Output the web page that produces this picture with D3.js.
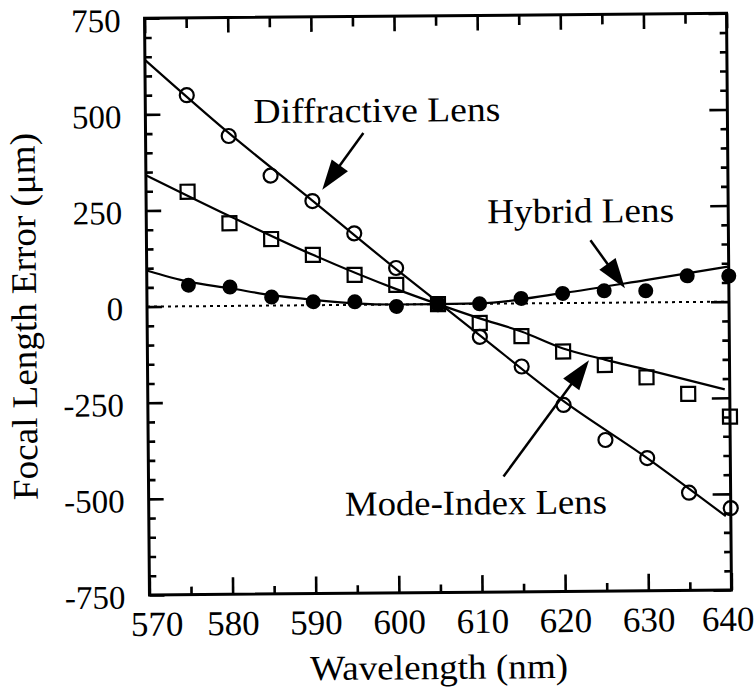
<!DOCTYPE html>
<html>
<head>
<meta charset="utf-8">
<script src="https://cdn.jsdelivr.net/npm/d3@7/dist/d3.min.js"></script>
<style>
body { margin: 0; background: #fff; }
svg text { font-family: "Liberation Serif", "Times New Roman", serif; fill: #000; }
</style>
</head>
<body>
<svg id="chart"></svg>
<script>
var width = 755;
var height = 690;

// measured points (nm, um)
var wavelengths = [575, 580, 585, 590, 595, 600, 605, 610, 615, 620, 625, 630, 635, 640];
var diffractive = [549, 442, 338, 271, 186, 95, 0, -86, -164, -265, -357, -405, -496, -537];
var modeIndex = [298, 215, 173, 131, 78, 51, 0, -50, -85, -126, -162, -195, -239, -299];
var hybrid = [55, 49, 22, 9, 8, -5, 0, 0, 13, 25, 31, 30, 68, 67];

// fitted curves
var diffFitX = [570, 580, 590, 600, 605, 610, 620, 630, 639.4];
var diffFitY = [642, 450, 272, 92, 5, -82, -255, -405, -558];
var modeFitX = [570, 580, 590, 600, 605, 610, 615, 620, 625, 630, 639.4];
var modeFitY = [342, 234, 131, 40, 0, -38, -73, -118, -148, -175, -228];
var hybFitX = [570, 575, 580, 585, 590, 595, 600, 605, 610, 620, 630, 639.9];
var hybFitY = [94, 64, 46, 27, 14, 4, 0, 0, 1, 26, 58, 91];

var xTicks = [570, 580, 590, 600, 610, 620, 630, 640];
var xMinor = [575, 585, 595, 605, 615, 625, 635];
var yTicks = [-750, -500, -250, 0, 250, 500, 750];
var yMinor = [-700, -650, -600, -550, -450, -400, -350, -300, -200, -150, -100, -50,
    50, 100, 150, 200, 300, 350, 400, 450, 550, 600, 650, 700];

// annotations: label, text start [nm, um], arrow from, arrow to
var labels = [
    { text: "Diffractive Lens", at: [583, 475], len: 247, from: [596.2, 447], to: [591.2, 300] },
    { text: "Hybrid Lens", at: [611, 209], len: 187, from: [623.4, 163], to: [627.5, 37] },
    { text: "Mode-Index Lens", at: [593.6, -548], len: 262, from: [612.7, -450], to: [623.1, -149] }
];

var svg = d3.select("#chart")
    .attr("width", width)
    .attr("height", height);

svg.append("rect")
    .attr("width", width)
    .attr("height", height)
    .attr("fill", "#fff");

var x = d3.scaleLinear().domain([570, 640]).range([147, 729]);
var y = d3.scaleLinear().domain([-750, 750]).range([592.5, 15.8]);

// the scanned figure is tilted a little
var g = svg.append("g")
    .attr("transform", "rotate(-0.49, 438, 304)");

function styleAxis(sel) {
    sel.select(".domain").remove();
    sel.selectAll("line").attr("stroke", "#000").attr("stroke-width", 2.6);
}

// left
g.append("g")
    .attr("transform", "translate(" + x(570) + ",0)")
    .call(d3.axisLeft(y).tickValues(yMinor).tickSize(-7).tickSizeOuter(0).tickFormat(""))
    .call(styleAxis);
var leftAxis = g.append("g")
    .attr("transform", "translate(" + x(570) + ",0)")
    .call(d3.axisLeft(y).tickValues(yTicks).tickSize(-15).tickSizeOuter(0).tickPadding(24)
        .tickFormat(function (d) { return String(d); }))
    .call(styleAxis)
    .attr("font-size", 33)
    .attr("font-family", null);
leftAxis.selectAll("text").attr("dy", "0.39em");

// right
g.append("g")
    .attr("transform", "translate(" + x(640) + ",0)")
    .call(d3.axisRight(y).tickValues(yMinor).tickSize(-7).tickSizeOuter(0).tickFormat(""))
    .call(styleAxis);
g.append("g")
    .attr("transform", "translate(" + x(640) + ",0)")
    .call(d3.axisRight(y).tickValues(yTicks).tickSize(-18).tickSizeOuter(0).tickFormat(""))
    .call(styleAxis);

// bottom
g.append("g")
    .attr("transform", "translate(0," + y(-750) + ")")
    .call(d3.axisBottom(x).tickValues(xMinor).tickSize(-8).tickSizeOuter(0).tickFormat(""))
    .call(styleAxis);
var bottomAxis = g.append("g")
    .attr("transform", "translate(0," + y(-750) + ")")
    .call(d3.axisBottom(x).tickValues(xTicks).tickSize(-17).tickSizeOuter(0).tickPadding(16)
        .tickFormat(function (d) { return String(d); }))
    .call(styleAxis)
    .attr("font-size", 35)
    .attr("font-family", null);
bottomAxis.selectAll("text")
    .attr("dx", function (d) {
        if (d === 570) return 7;
        if (d === 640) return -4;
        return 0;
    });

// top
g.append("g")
    .attr("transform", "translate(0," + y(750) + ")")
    .call(d3.axisTop(x).tickValues(xMinor).tickSize(-10).tickSizeOuter(0).tickFormat(""))
    .call(styleAxis);
g.append("g")
    .attr("transform", "translate(0," + y(750) + ")")
    .call(d3.axisTop(x).tickValues(xTicks).tickSize(-15).tickSizeOuter(0).tickFormat(""))
    .call(styleAxis);

// frame
g.append("rect")
    .attr("x", x(570))
    .attr("y", y(750))
    .attr("width", x(640) - x(570))
    .attr("height", y(-750) - y(750))
    .attr("fill", "none")
    .attr("stroke", "#000")
    .attr("stroke-width", 3);

// zero reference
g.append("line")
    .attr("x1", x(570))
    .attr("x2", x(640))
    .attr("y1", y(0))
    .attr("y2", y(0))
    .attr("stroke", "#000")
    .attr("stroke-width", 2)
    .attr("stroke-dasharray", "3,4");

var line = d3.line()
    .x(function (d) { return x(d[0]); })
    .y(function (d) { return y(d[1]); })
    .curve(d3.curveMonotoneX);

function drawFit(xs, ys) {
    g.append("path")
        .datum(d3.zip(xs, ys))
        .attr("d", line)
        .attr("fill", "none")
        .attr("stroke", "#000")
        .attr("stroke-width", 2.2);
}
drawFit(diffFitX, diffFitY);
drawFit(modeFitX, modeFitY);
drawFit(hybFitX, hybFitY);

// markers
g.selectAll(".sq")
    .data(d3.zip(wavelengths, modeIndex))
    .enter()
    .append("rect")
    .attr("x", function (d) { return x(d[0]) - 7; })
    .attr("y", function (d) { return y(d[1]) - 7; })
    .attr("width", 14)
    .attr("height", 14)
    .attr("fill", "none")
    .attr("stroke", "#000")
    .attr("stroke-width", 2.2);

g.selectAll(".oc")
    .data(d3.zip(wavelengths, diffractive))
    .enter()
    .append("circle")
    .attr("cx", function (d) { return x(d[0]); })
    .attr("cy", function (d) { return y(d[1]); })
    .attr("r", 7)
    .attr("fill", "none")
    .attr("stroke", "#000")
    .attr("stroke-width", 2.2);

g.selectAll(".fc")
    .data(d3.zip(wavelengths, hybrid))
    .enter()
    .append("circle")
    .attr("cx", function (d) { return x(d[0]); })
    .attr("cy", function (d) { return y(d[1]); })
    .attr("r", 7.5)
    .attr("fill", "#000");

// annotations
var headLen = 30;
var headHalf = 10;
for (var i = 0; i < labels.length; i++) {
    var a = labels[i];
    g.append("text")
        .attr("x", x(a.at[0]))
        .attr("y", y(a.at[1]))
        .attr("font-size", 35)
        .attr("textLength", a.len)
        .attr("lengthAdjust", "spacingAndGlyphs")
        .text(a.text);

    var x1 = x(a.from[0]), y1 = y(a.from[1]);
    var x2 = x(a.to[0]), y2 = y(a.to[1]);
    var dx = x2 - x1, dy = y2 - y1;
    var len = Math.sqrt(dx * dx + dy * dy);
    var ux = dx / len, uy = dy / len;
    var bx = x2 - ux * headLen, by = y2 - uy * headLen;

    g.append("line")
        .attr("x1", x1).attr("y1", y1)
        .attr("x2", bx + ux * 2).attr("y2", by + uy * 2)
        .attr("stroke", "#000")
        .attr("stroke-width", 2.5);
    g.append("path")
        .attr("d", "M" + x2 + "," + y2 +
            "L" + (bx - uy * headHalf) + "," + (by + ux * headHalf) +
            "L" + (bx + uy * headHalf) + "," + (by - ux * headHalf) + "Z")
        .attr("fill", "#000");
}

// axis titles
g.append("text")
    .attr("x", 436)
    .attr("y", 679)
    .attr("text-anchor", "middle")
    .attr("font-size", 35)
    .attr("textLength", 258)
    .attr("lengthAdjust", "spacingAndGlyphs")
    .text("Wavelength (nm)");

g.append("text")
    .attr("transform", "translate(36,313) rotate(-90)")
    .attr("text-anchor", "middle")
    .attr("font-size", 36)
    .attr("textLength", 367)
    .attr("lengthAdjust", "spacingAndGlyphs")
    .text("Focal Length Error (μm)");
</script>
</body>
</html>
